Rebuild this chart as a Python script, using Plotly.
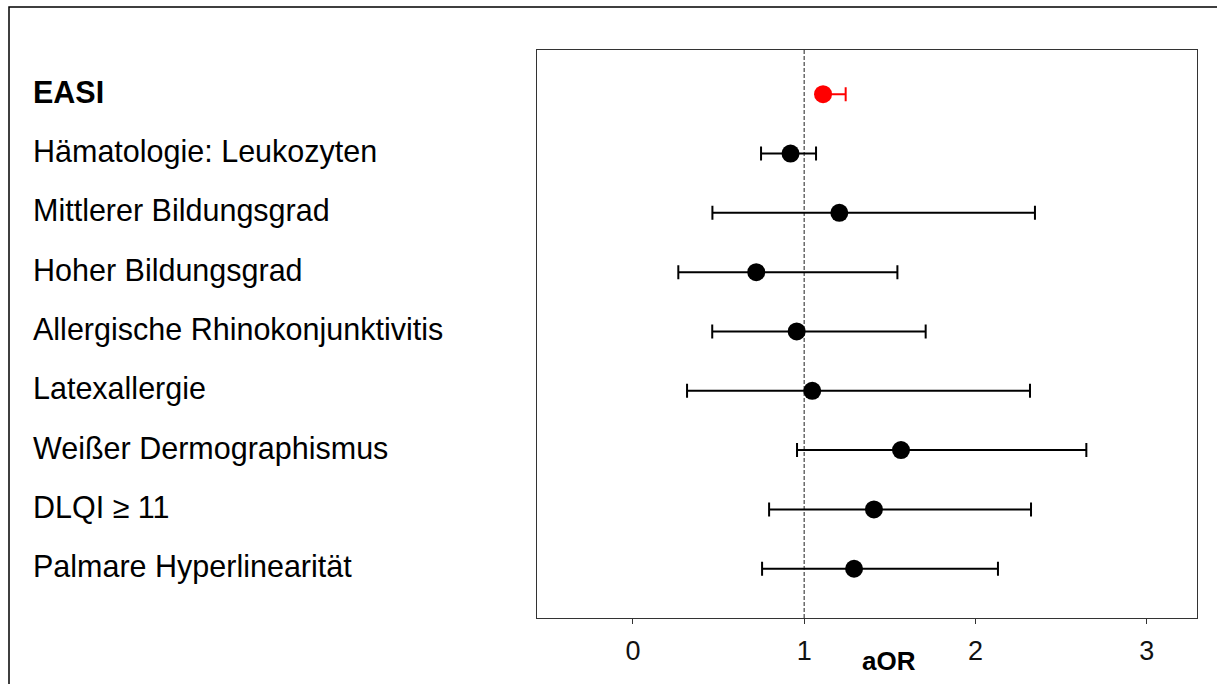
import plotly.graph_objects as go

# Predictors (top to bottom) with adjusted odds ratios and 95% CI bounds
labels = [
    "EASI",
    "Hämatologie: Leukozyten",
    "Mittlerer Bildungsgrad",
    "Hoher Bildungsgrad",
    "Allergische Rhinokonjunktivitis",
    "Latexallergie",
    "Weißer Dermographismus",
    "DLQI ≥ 11",
    "Palmare Hyperlinearität",
]
aor = [1.11, 0.92, 1.205, 0.72, 0.956, 1.047, 1.565, 1.407, 1.291]
ci_low = [1.095, 0.748, 0.464, 0.265, 0.463, 0.316, 0.958, 0.795, 0.754]
ci_high = [1.242, 1.069, 2.347, 1.544, 1.709, 2.318, 2.647, 2.324, 2.131]
x_ticks = [0, 1, 2, 3]

highlight = {"EASI"}
FONT = "Liberation Sans, Arial, sans-serif"

W, H = 1217, 684
L, R, T, B = 537, 20, 50, 66
PW, PH = W - L - R, H - T - B

fig = go.Figure()

rows = list(range(len(labels)))
for i, name in enumerate(labels):
    color = "#ff0000" if name in highlight else "#000000"
    fig.add_trace(go.Scatter(
        x=[aor[i]], y=[rows[i]],
        mode="markers",
        marker=dict(size=18, color=color),
        error_x=dict(
            type="data", symmetric=False,
            array=[ci_high[i] - aor[i]],
            arrayminus=[aor[i] - ci_low[i]],
            color=color, thickness=2, width=7,
        ),
        showlegend=False,
        hoverinfo="skip",
    ))

# Row labels on the left, left-aligned
for i, name in enumerate(labels):
    bold = name in highlight
    fig.add_annotation(
        x=(31 - L) / PW, xref="paper", xanchor="left",
        y=rows[i], yref="y", yanchor="middle", yshift=2,
        text=f"<b>{name}</b>" if bold else name,
        showarrow=False,
        font=dict(family=FONT, size=30.5, color="#000000"),
    )

# Axis caption
fig.add_annotation(
    x=(889 - L) / PW, xref="paper", xanchor="center",
    y=(618 - 661) / PH, yref="paper", yanchor="middle",
    text="<b>aOR</b>", showarrow=False,
    font=dict(family=FONT, size=26, color="#000000"),
)

# Reference line at OR = 1
fig.add_shape(
    type="line", xref="x", yref="paper",
    x0=1, x1=1, y0=0, y1=1,
    line=dict(color="#6a6a6a", width=1.5, dash="4px,2px"),
    layer="below",
)

# Outer frame (top and left edges)
fig.add_shape(
    type="rect", xref="paper", yref="paper",
    x0=(9 - L) / PW, x1=(W + 20 - L) / PW,
    y0=(618 - (H + 20)) / PH, y1=(618 - 7) / PH,
    line=dict(color="#000000", width=1.5),
    fillcolor="rgba(0,0,0,0)",
)

fig.update_xaxes(
    range=[-0.56, 3.293],
    tickvals=x_ticks,
    ticktext=[str(v) for v in x_ticks],
    ticks="outside", ticklen=5, tickwidth=1, tickcolor="#333333",
    showgrid=False, zeroline=False,
    showline=True, linecolor="#333333", linewidth=1, mirror=True,
    tickfont=dict(family=FONT, size=27, color="#111111"),
    ticklabelstandoff=4,
)
fig.update_yaxes(
    range=[8.83, -0.745],
    showticklabels=False, ticks="",
    showgrid=False, zeroline=False,
    showline=True, linecolor="#333333", linewidth=1, mirror=True,
)

fig.update_layout(
    width=W, height=H,
    margin=dict(l=L, r=R, t=T, b=B),
    paper_bgcolor="white", plot_bgcolor="white",
    font=dict(family=FONT),
)

fig.write_html("out.html")
